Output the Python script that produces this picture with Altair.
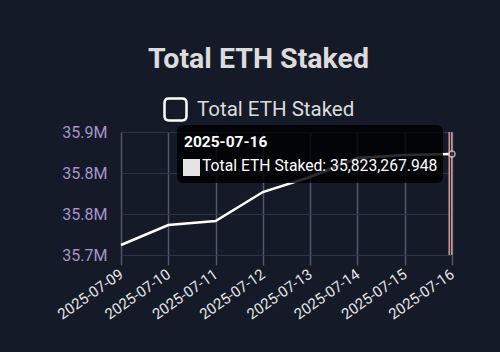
import altair as alt
import pandas as pd

dates = ["2025-07-09", "2025-07-10", "2025-07-11", "2025-07-12",
         "2025-07-13", "2025-07-14", "2025-07-15", "2025-07-16"]
values = [35712200, 35736600, 35741500, 35776800,
          35795100, 35818300, 35822000, 35823267.948]
series = ["Total ETH Staked"] * len(dates)
y_ticks = [35700000, 35750000, 35800000, 35850000]
y_tick_labels = ["35.7M", "35.8M", "35.8M", "35.9M"]
hover_date = "2025-07-16"

df = pd.DataFrame({"date": dates, "value": values, "series": series})

BG = "#141a28"
FONT = "Roboto"

label_expr = " : ".join(
    [f"datum.value == {v} ? '{l}'" for v, l in zip(y_ticks, y_tick_labels)] + ["''"]
)

x_enc = alt.X("date:O", scale=alt.Scale(type="point", padding=0),
              axis=alt.Axis(title=None, labelAngle=-35, labelAlign="right",
                            labelBaseline="middle", labelFontSize=15, labelColor="#e6e6e6",
                            labelFont=FONT, labelPadding=7, tickSize=10, tickColor="#4f5668",
                            tickWidth=1.5, grid=True, gridColor="#4f5668", gridWidth=1.5,
                            domain=False))
y_enc = alt.Y("value:Q", scale=alt.Scale(domain=[35700000, 35850000], zero=False, nice=False),
              axis=alt.Axis(title=None, values=y_ticks, labelExpr=label_expr,
                            labelFontSize=16, labelColor="#a794c9", labelFont=FONT,
                            labelPadding=14, ticks=False, domain=False, grid=True,
                            gridColor="#2c3445", gridWidth=1))

rounded_sq = ("M -0.6,-1 L 0.6,-1 Q 1,-1 1,-0.6 L 1,0.6 Q 1,1 0.6,1 L -0.6,1 "
              "Q -1,1 -1,0.6 L -1,-0.6 Q -1,-1 -0.6,-1 Z")

base = alt.Chart(df)

line = base.mark_line(strokeWidth=2.5).encode(
    x=x_enc, y=y_enc,
    stroke=alt.Stroke("series:N", scale=alt.Scale(range=["#ffffff"]),
                      legend=alt.Legend(title=None, orient="none", legendX=42, legendY=-35,
                                        padding=0, symbolType=rounded_sq, symbolSize=484,
                                        symbolStrokeWidth=2.5, symbolStrokeColor="#ffffff",
                                        symbolFillColor="transparent", labelFontSize=20.5,
                                        labelLimit=400,
                                        labelColor="#dcdcdc", labelFont=FONT, labelOffset=9)),
)

hover = base.transform_filter(alt.datum.date == hover_date)

rule_outer = hover.mark_rule(color="#d9a0a0", strokeWidth=4, xOffset=-1.5).encode(
    x="date:O", y=alt.value(0), y2=alt.value(123))
rule_inner = hover.mark_rule(color="#3a2634", strokeWidth=1.2, xOffset=-1.5).encode(
    x="date:O", y=alt.value(0), y2=alt.value(123))

end_pt = hover.mark_point(filled=True, fill=BG, stroke="#f0d0d0", strokeWidth=1.5, size=36).encode(
    x="date:O", y="value:Q")

tip_box = hover.mark_rect(fill="#000000", opacity=0.82, cornerRadius=6).encode(
    x=alt.value(56), x2=alt.value(322), y=alt.value(-7), y2=alt.value(51))

tip_sq = hover.mark_square(size=289, color="#e4e4e4", opacity=1).encode(
    x=alt.value(70.5), y=alt.value(35.5))

tip_date = hover.mark_text(align="left", baseline="middle", fontSize=15.5, fontWeight="bold",
                           color="#ffffff", font=FONT).encode(
    x=alt.value(63), y=alt.value(10), text="date:N")

tip_val = hover.transform_calculate(
    label="datum.series + ': ' + format(datum.value, ',.3f')"
).mark_text(align="left", baseline="middle", fontSize=15.7, color="#ffffff", font=FONT).encode(
    x=alt.value(81), y=alt.value(34), text="label:N")

chart = alt.layer(line, rule_outer, rule_inner, end_pt, tip_box, tip_sq, tip_date, tip_val).properties(
    width=331, height=123,
    title=alt.TitleParams("Total ETH Staked", fontSize=28.5, fontWeight="bold", color="#dcdcdc",
                          font=FONT, anchor="middle", frame="group", dx=-28, offset=24),
    autosize=alt.AutoSizeParams(type="none"),
    padding={"left": 121, "top": 132, "right": 48, "bottom": 97},
    background=BG,
).configure_view(stroke=None)

chart.save("out.html", embed_options={"renderer": "svg", "actions": False})
